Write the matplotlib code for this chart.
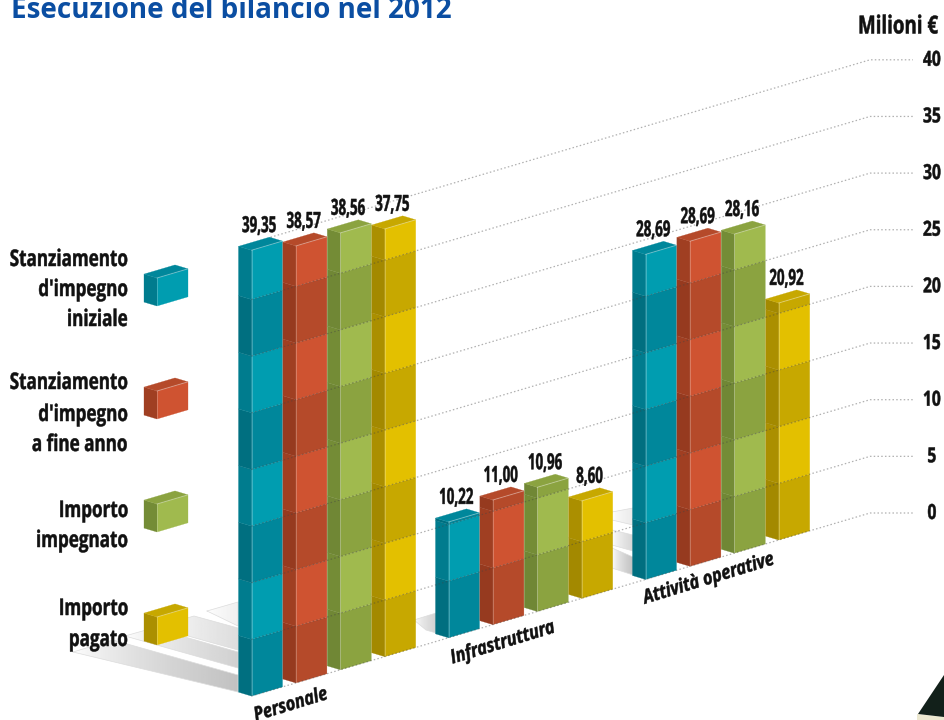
import numpy as np
import matplotlib
matplotlib.use('Agg')
import matplotlib.pyplot as plt
from matplotlib.patches import Polygon
from matplotlib.patheffects import AbstractPathEffect
from matplotlib.text import Text
from matplotlib.transforms import Affine2D, Bbox

plt.rcParams['font.family'] = ['Open Sans', 'DejaVu Sans']

# importi in milioni di euro
categorie = ['Personale', 'Infrastruttura', 'Attività operative']
stanz_iniziale = [39.35, 10.22, 28.69]
stanz_fine_anno = [38.57, 11.00, 28.69]
impegnato = [38.56, 10.96, 28.16]
pagato = [37.75, 8.60, 20.92]
tick_vals = [0, 5, 10, 15, 20, 25, 30, 35, 40]
legenda = [['Stanziamento', "d'impegno", 'iniziale'],
           ['Stanziamento', "d'impegno", 'a fine anno'],
           ['Importo', 'impegnato'],
           ['Importo', 'pagato']]

# colori: frontale chiaro, frontale scuro, lato chiaro, lato scuro, sopra
colori = [('#009db0', '#00879b', '#007c8e', '#006f80', '#00879b'),
          ('#cf5331', '#b54a2a', '#a03f22', '#963a1f', '#b54a2a'),
          ('#a0ba4e', '#8ba340', '#748c36', '#708735', '#8ba340'),
          ('#e3c000', '#c7a800', '#ab8f00', '#a38900', '#c7a800')]

# geometria della prospettiva, in pixel
SCALA = 11.33
PEND = 0.296
X_RIF, Y_RIF = 870, 513
X_FINE = 913
LARG, PROF = 31, 13
X_BARRA0, PASSO_BARRA, PASSO_GRUPPO = 251.5, 44.4, 197


class Stretto(AbstractPathEffect):
    # restringe i glifi in orizzontale, il font condensato non c'e'
    def __init__(self, sx, ha):
        self.sx = sx
        self.ha = ha

    def draw_path(self, renderer, gc, tpath, affine, rgbFace=None):
        w = tpath.get_extents().x1
        quota = {'left': 0, 'center': 0.5, 'right': 1}[self.ha]
        t = Affine2D().scale(self.sx, 1).translate(w * (1 - self.sx) * quota, 0) + affine
        gc0 = renderer.new_gc()
        gc0.copy_properties(gc)
        gc0.set_foreground(rgbFace)
        gc0.set_linewidth(0.35)
        renderer.draw_path(gc0, tpath, t, rgbFace)
        gc0.restore()


class TestoStretto(Text):
    def __init__(self, x, y, s, sx, **kw):
        super().__init__(x, y, s, **kw)
        self.sx = sx
        self.set_path_effects([Stretto(sx, self.get_ha())])

    def get_window_extent(self, renderer=None, dpi=None):
        bb = super().get_window_extent(renderer, dpi)
        quota = {'left': 0, 'center': 0.5, 'right': 1}[self.get_ha()]
        taglio = bb.width * (1 - self.sx)
        x0 = bb.x0 + taglio * quota
        return Bbox([[x0, bb.y0], [x0 + bb.width - taglio, bb.y1]])


def scrivi(ax, x, y, s, sx, **kw):
    kw.setdefault('fontweight', 'bold')
    kw.setdefault('color', '#111111')
    kw.setdefault('zorder', 6)
    t = TestoStretto(x, y, s, sx, **kw)
    ax.add_artist(t)
    return t


def suolo(x):
    return Y_RIF + PEND * (X_RIF - x)


def scatola(ax, x, y0, vmax, col, passo=5.0, z=3, inizio_scuro=True):
    # disegna parallelepipedo con angolo in basso in (x, y0)
    n = int(np.ceil(vmax / passo))
    for i in range(n):
        a, b = i * passo, min((i + 1) * passo, vmax)
        ya, yb = y0 - a * SCALA, y0 - b * SCALA
        scuro = (i % 2 == 0) == inizio_scuro
        c_f = col[1] if scuro else col[0]
        c_l = col[3] if scuro else col[2]
        ax.fill([x, x + LARG, x + LARG, x],
                [ya, ya - LARG * PEND, yb - LARG * PEND, yb],
                color=c_f, lw=0.2, zorder=z)
        ax.fill([x - PROF, x, x, x - PROF],
                [ya - PROF * 0.3, ya, yb, yb - PROF * 0.3],
                color=c_l, lw=0.2, zorder=z)
    yt = y0 - vmax * SCALA
    ax.fill([x, x + LARG, x + LARG - PROF, x - PROF],
            [yt, yt - LARG * PEND, yt - LARG * PEND - PROF * 0.3, yt - PROF * 0.3],
            color=col[4], lw=0.2, zorder=z)
    # filo di luce sugli spigoli
    ax.plot([x, x], [y0, yt], color='white', alpha=0.25, lw=0.7, zorder=z + 0.1)
    ax.plot([x, x + LARG], [yt, yt - LARG * PEND], color='white', alpha=0.35, lw=0.7,
            zorder=z + 0.1)
    return yt - LARG * PEND - PROF * 0.3


def striscia(ax, punti, massimo):
    # fascia del pavimento con sfumatura verso destra
    xs = [p[0] for p in punti]
    ys = [p[1] for p in punti]
    grad = (1 - (1 - massimo) * np.linspace(0, 1, 64) ** 0.7).reshape(1, -1)
    im = ax.imshow(grad, cmap='gray', vmin=0, vmax=1, aspect='auto',
                   extent=[min(xs), max(xs), max(ys), min(ys)], zorder=1)
    im.set_clip_path(Polygon(punti, transform=ax.transData))
    ax.plot(xs + xs[:1], ys + ys[:1], color='#dcdcdc', lw=0.5, zorder=1.1)


fig = plt.figure(figsize=(9.44, 7.2), dpi=100)
ax = fig.add_axes([0, 0, 1, 1])

# pavimento a sinistra del primo gruppo
striscia(ax, [(73, 652), (113, 640), (238, 675), (238, 692)], 0.76)
striscia(ax, [(125, 636), (153, 628), (238, 652), (238, 668)], 0.82)
striscia(ax, [(156, 627), (194, 616), (238, 628), (238, 650)], 0.87)
striscia(ax, [(207, 611), (238, 602), (238, 626)], 0.94)
# pavimento dietro il secondo e il terzo gruppo
striscia(ax, [(414, 620), (436, 613), (436, 633), (426, 630)], 0.82)
striscia(ax, [(612, 512), (633, 508), (633, 525), (612, 520)], 0.92)
striscia(ax, [(612, 530), (633, 535), (633, 551), (612, 545)], 0.84)
striscia(ax, [(612, 548), (633, 557), (633, 575), (612, 568)], 0.76)

ax.set_xlim(0, 944)
ax.set_ylim(720, 0)
ax.axis('off')

# barre
serie = [stanz_iniziale, stanz_fine_anno, impegnato, pagato]
for g in range(len(categorie)):
    for s, valori in enumerate(serie):
        x = X_BARRA0 + g * PASSO_GRUPPO + s * PASSO_BARRA
        cima = scatola(ax, x, suolo(x), valori[g], colori[s])
        testo = '%.2f' % valori[g]
        scrivi(ax, x + 8, cima - 5, testo.replace('.', ','), 0.6, ha='center',
               va='baseline', fontsize=16)

# griglia puntinata con tratto orizzontale verso i valori
for v in tick_vals:
    xi = X_BARRA0 + 19 if v == 40 else X_BARRA0
    yf = Y_RIF - v * SCALA
    ax.plot([xi, X_RIF, X_FINE], [suolo(xi) - v * SCALA, yf, yf], color='#444444',
            alpha=0.42, lw=0.9, ls=(0, (1.2, 1.8)), zorder=5)
    scrivi(ax, 932, yf + 0.5, str(v), 0.75, ha='center', va='center', fontsize=15)

scrivi(ax, 938, 27, 'Milioni €', 0.75, ha='right', va='center', fontsize=18)
ax.text(11, 18, 'Esecuzione del bilancio nel 2012', ha='left', va='baseline',
        fontsize=20.1, fontweight='bold', color='#0b4ea2')

# nomi dei gruppi sotto le barre
pos_cat = [(291, 705), (503, 643), (709, 579)]
for nome, (xc, yc) in zip(categorie, pos_cat):
    scrivi(ax, xc, yc, nome, 0.84, ha='center', va='center', rotation=17, fontsize=14,
           style='italic', rotation_mode='anchor')

# legenda
y_scatole = [306, 419, 532, 645]
y_righe = [[260, 290, 320], [383, 415, 445], [511, 541], [609, 640]]
for righe, ys, y_s, col in zip(legenda, y_righe, y_scatole, colori):
    scatola(ax, 157, y_s, 28 / SCALA, col, passo=50.0, inizio_scuro=False)
    for riga, y in zip(righe, ys):
        scrivi(ax, 128, y, riga, 0.745, ha='right', va='center', fontsize=16.5)

# angolo in basso a destra
ax.add_patch(Polygon([(917, 720), (917, 714), (944, 717), (944, 720)], color='#ece8d0', lw=0, zorder=2))
ax.add_patch(Polygon([(918, 714), (944, 675), (944, 717)], color='#12201a', lw=0, zorder=3))

fig.savefig('out.png', dpi=100)
